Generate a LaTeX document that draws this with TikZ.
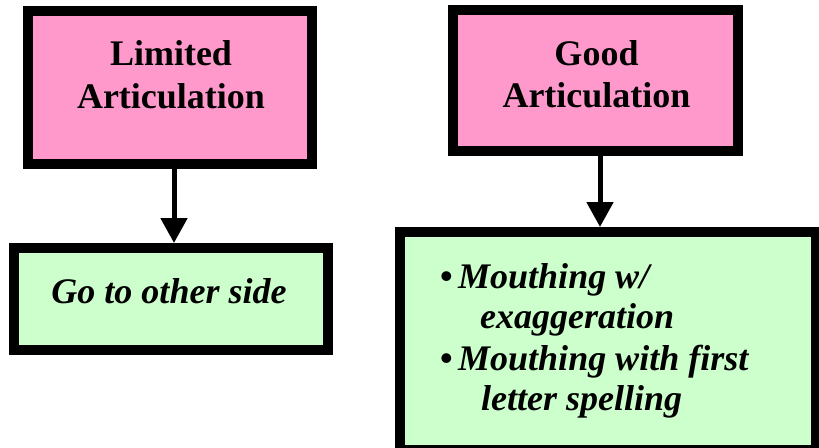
\documentclass[tikz,border=0pt]{standalone}
\usepackage{fontspec}
\setmainfont{Liberation Serif}
\usetikzlibrary{arrows.meta}
\definecolor{boxpink}{HTML}{FF99CC}
\definecolor{boxgreen}{HTML}{CCFFCC}
\tikzset{
  box/.style={draw=black, line width=10pt, rectangle, inner sep=0pt},
  headbox/.style={box, fill=boxpink},
  notebox/.style={box, fill=boxgreen},
  lbl/.style={inner sep=0pt, font=\fontsize{36}{41}\selectfont\bfseries},
  ilbl/.style={lbl, font=\fontsize{36}{41}\selectfont\bfseries\itshape},
  link/.style={line width=5pt, -{Triangle[length=25pt, width=26pt]}}
}
\newcommand{\itembullet}{\makebox[18pt][l]{\upshape\textbullet}}
\begin{document}
\begin{tikzpicture}[x=1pt, y=-1pt]
  \useasboundingbox (0,0) rectangle (819,447);
  \clip (0,0) rectangle (819,447);

  % heading boxes
  \node[headbox, minimum width=284pt, minimum height=153pt] (b1) at (170,87.5) {};
  \node[headbox, minimum width=285pt, minimum height=141pt] (b2) at (595.5,80.5) {};
  \node[lbl, anchor=base] (b1a) at (171,65) {Limited};
  \node[lbl, anchor=base] (b1b) at (171,108) {Articulation};
  \node[lbl, anchor=base] (b2a) at (596.5,65) {Good};
  \node[lbl, anchor=base] (b2b) at (596.5,107) {Articulation};

  % outcome boxes
  \node[notebox, minimum width=314pt, minimum height=102pt] (b3) at (171,299) {};
  \node[notebox, minimum width=416pt, minimum height=218pt] (b4) at (608,341) {};
  \node[ilbl, anchor=base] (b3a) at (169,303) {Go to other side};
  \node[ilbl, anchor=base west] (b4a) at (440,288) {\itembullet Mouthing w/};
  \node[ilbl, anchor=base west] (b4b) at (480,328) {exaggeration};
  \node[ilbl, anchor=base west] (b4c) at (440,370) {\itembullet Mouthing with first};
  \node[ilbl, anchor=base west] (b4d) at (481,410) {letter spelling};

  % connectors
  \draw[link] ([xshift=4pt]b1.south) -- ([xshift=4pt]b1.south |- b3.north);
  \draw[link] ([xshift=4.5pt]b2.south) -- ([xshift=4.5pt]b2.south |- b4.north);
\end{tikzpicture}
\end{document}
